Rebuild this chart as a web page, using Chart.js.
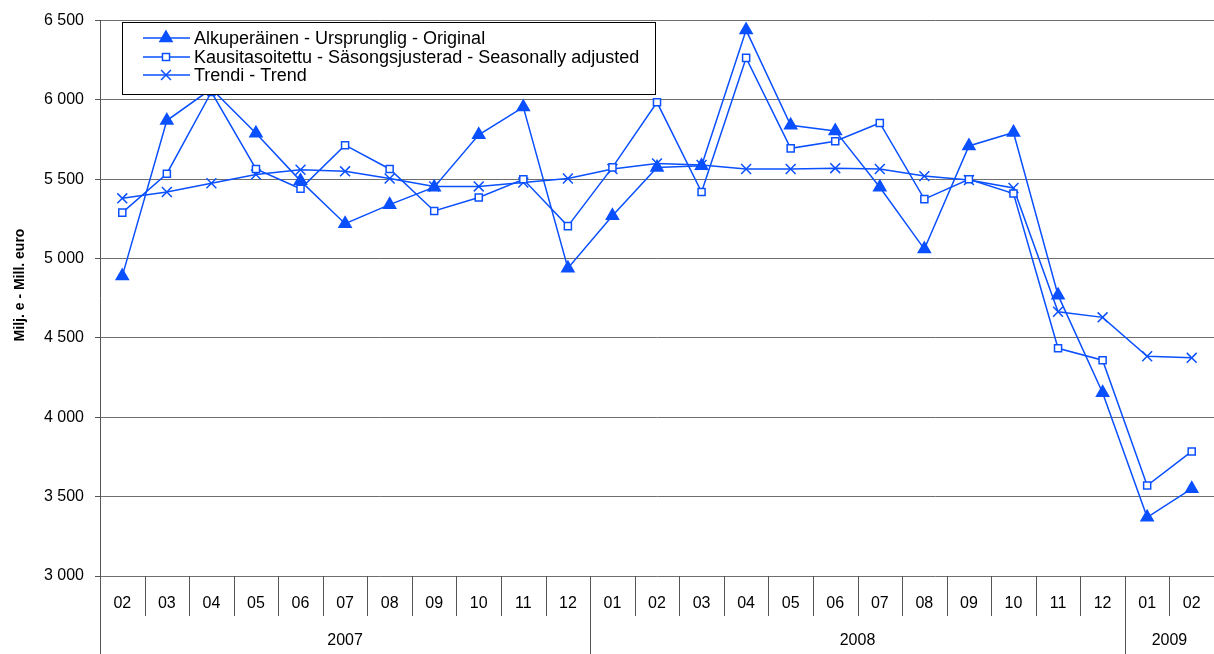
<!DOCTYPE html>
<html>
<head>
<meta charset="utf-8">
<script src="https://cdn.jsdelivr.net/npm/chart.js@4"></script>
<style>
  body { margin: 0; background: #fff; }
  #wrap { width: 1214px; height: 654px; }
</style>
</head>
<body>
<div id="wrap"><canvas id="myChart" width="1214" height="654"></canvas></div>
<script>
// month labels, 2007-02 .. 2009-02
const monthLabels = ['02','03','04','05','06','07','08','09','10','11','12',
                     '01','02','03','04','05','06','07','08','09','10','11','12',
                     '01','02'];
const yearLabels = ['2007', '2008', '2009'];
const yearCounts = [11, 12, 2];

const seriesNames = [
    'Alkuperäinen - Ursprunglig - Original',
    'Kausitasoitettu - Säsongsjusterad - Seasonally adjusted',
    'Trendi - Trend'
];
const yTitle = 'Milj. e - Mill. euro';

const original = [4890, 5870, 6070, 5790, 5490, 5220, 5340, 5450, 5780, 5955, 4940,
                  5270, 5575, 5585, 6440, 5840, 5805, 5450, 5060, 5710, 5795, 4770, 4155,
                  3370, 3550];
const adjusted = [5290, 5535, 6050, 5565, 5440, 5715, 5565, 5300, 5385, 5500, 5205,
                  5575, 5985, 5420, 6265, 5695, 5740, 5855, 5375, 5500, 5410, 4435, 4360,
                  3570, 3785];
const trend    = [5380, 5420, 5475, 5530, 5560, 5550, 5505, 5455, 5455, 5480, 5505,
                  5565, 5600, 5590, 5565, 5565, 5570, 5565, 5520, 5495, 5445, 4665, 4630,
                  4385, 4375];

const yTicks = { min: 3000, max: 6500, step: 500 };

const BLUE = '#0a50ff';
const FONT = "'Liberation Sans', Arial, sans-serif";

function fmt(v) {
    return String(v).replace(/\B(?=(\d{3})+(?!\d))/g, ' ');
}

// Legend box drawn inside the plot, over the lines
const boxLegend = {
    id: 'boxLegend',
    afterDatasetsDraw(chart) {
        const ctx = chart.ctx;
        ctx.save();
        ctx.fillStyle = '#fff';
        ctx.fillRect(122, 22, 533, 72);
        ctx.strokeStyle = '#000';
        ctx.lineWidth = 1;
        ctx.strokeRect(122.5, 22.5, 533, 72);
        const rows = [38, 57, 75];
        chart.data.datasets.forEach((ds, i) => {
            const y = rows[i];
            ctx.strokeStyle = BLUE;
            ctx.lineWidth = 1.5;
            ctx.beginPath();
            ctx.moveTo(143, y);
            ctx.lineTo(190, y);
            ctx.stroke();
            ctx.fillStyle = ds.pointBackgroundColor;
            ctx.strokeStyle = BLUE;
            Chart.helpers.drawPoint(ctx, {
                pointStyle: ds.pointStyle,
                radius: ds.pointRadius,
                borderWidth: ds.pointBorderWidth,
                rotation: 0
            }, 166, y);
            ctx.fillStyle = '#000';
            ctx.font = '18px ' + FONT;
            ctx.textAlign = 'left';
            ctx.textBaseline = 'middle';
            ctx.fillText(ds.label, 194, y + 1);
        });
        ctx.restore();
    }
};

// Two-level category axis (months / years) under the plot, plus y title
const bottomAxis = {
    id: 'bottomAxis',
    afterDraw(chart) {
        const { ctx, chartArea } = chart;
        const x = chart.scales.x;
        const half = (x.getPixelForValue(1) - x.getPixelForValue(0)) / 2;
        const top = chartArea.bottom;
        ctx.save();
        ctx.strokeStyle = '#555';
        ctx.lineWidth = 1;
        ctx.beginPath();
        ctx.moveTo(Math.round(chartArea.left) + 0.5, top);
        ctx.lineTo(Math.round(chartArea.left) + 0.5, 654);
        ctx.stroke();

        const yearStarts = [];
        let acc = 0;
        yearCounts.forEach(c => { yearStarts.push(acc); acc += c; });

        for (let i = 1; i < monthLabels.length; i++) {
            const xb = Math.round(x.getPixelForValue(i) - half) + 0.5;
            const isYear = yearStarts.includes(i);
            ctx.beginPath();
            ctx.moveTo(xb, top);
            ctx.lineTo(xb, isYear ? 654 : 616);
            ctx.stroke();
        }

        ctx.fillStyle = '#000';
        ctx.font = '16px ' + FONT;
        ctx.textAlign = 'center';
        ctx.textBaseline = 'middle';
        monthLabels.forEach((m, i) => {
            ctx.fillText(m, x.getPixelForValue(i), 604);
        });
        yearLabels.forEach((yl, k) => {
            const s = yearStarts[k];
            const e = s + yearCounts[k] - 1;
            const x0 = x.getPixelForValue(s) - half;
            const x1 = Math.min(x.getPixelForValue(e) + half, chartArea.right);
            ctx.fillText(yl, (x0 + x1) / 2, 641);
        });

        // y axis title
        ctx.translate(20, 285);
        ctx.rotate(-Math.PI / 2);
        ctx.font = 'bold 14px ' + FONT;
        ctx.fillText(yTitle, 0, 0);
        ctx.restore();
    }
};

function makeSet(label, data, style, radius, fill) {
    return {
        label: label,
        data: data,
        borderColor: BLUE,
        borderWidth: 1.5,
        tension: 0,
        pointStyle: style,
        pointRadius: radius,
        pointHoverRadius: radius,
        pointBorderColor: BLUE,
        pointBackgroundColor: fill,
        pointBorderWidth: 1.5
    };
}

const ctx = document.getElementById('myChart').getContext('2d');
const myChart = new Chart(ctx, {
    type: 'line',
    data: {
        labels: monthLabels,
        datasets: [
            makeSet(seriesNames[0], original, 'triangle', 7, BLUE),
            makeSet(seriesNames[1], adjusted, 'rect', 5, '#fff'),
            makeSet(seriesNames[2], trend, 'crossRot', 7, BLUE)
        ]
    },
    options: {
        responsive: false,
        animation: false,
        devicePixelRatio: 1,
        layout: { autoPadding: false, padding: { top: 16, right: 0, bottom: 78, left: 0 } },
        plugins: { legend: { display: false }, tooltip: { enabled: false } },
        scales: {
            x: {
                display: false,
                offset: true
            },
            y: {
                min: yTicks.min,
                max: yTicks.max,
                afterFit(scale) { scale.width = 100; },
                ticks: {
                    stepSize: yTicks.step,
                    color: '#000',
                    font: { family: FONT, size: 16 },
                    padding: 11,
                    callback: v => fmt(v)
                },
                grid: { color: '#6e6e6e', tickLength: 5, tickColor: '#555' },
                border: { color: '#555', width: 1 }
            }
        }
    },
    plugins: [boxLegend, bottomAxis]
});
</script>
</body>
</html>
